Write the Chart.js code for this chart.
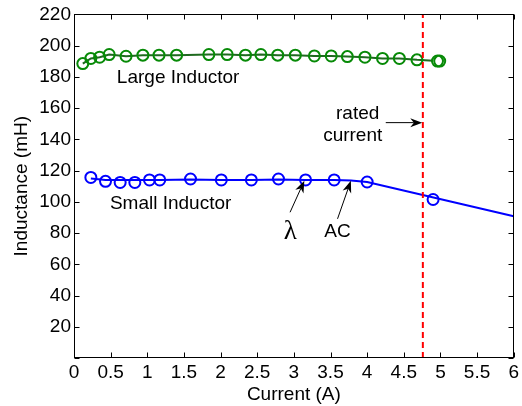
<!DOCTYPE html>
<html><head><meta charset="utf-8">
<script src="https://cdn.jsdelivr.net/npm/chart.js@4/dist/chart.umd.min.js"></script>
<style>html,body{margin:0;padding:0;background:#fff;} canvas{display:block;}</style>
</head><body>
<canvas id="c" width="522" height="406"></canvas>
<script>
// ---- data ----
const largeCurrent    = [0.12, 0.23, 0.35, 0.48, 0.71, 0.94, 1.16, 1.40, 1.84, 2.09, 2.34, 2.55, 2.78, 3.02, 3.28, 3.51, 3.73, 3.97, 4.21, 4.44, 4.68, 4.96, 4.99];
const largeInductance = [188.5, 191.8, 192.6, 194.3, 193.2, 193.9, 193.9, 193.9, 194.3, 194.3, 193.9, 194.3, 193.9, 193.9, 193.4, 193.4, 193.0, 192.6, 191.8, 191.8, 190.9, 190.1, 190.1];
const largeFitCurrent    = [0.12, 0.23, 0.35, 0.48, 0.71, 0.94, 1.16, 1.40, 1.84, 2.09, 2.34, 2.55, 2.78, 3.02, 3.28, 3.51, 3.73, 3.97, 4.21, 4.44, 4.68, 4.90];
const largeFitInductance = [188.5, 191.8, 192.6, 194.3, 193.2, 193.9, 193.9, 193.9, 194.3, 194.3, 193.9, 194.3, 193.9, 193.9, 193.4, 193.4, 193.0, 192.6, 191.8, 191.8, 190.9, 190.4];
const smallCurrent    = [0.23, 0.43, 0.63, 0.83, 1.03, 1.17, 1.59, 2.01, 2.42, 2.79, 3.16, 3.55, 4.00, 4.90];
const smallInductance = [115.6, 113.1, 112.4, 112.4, 114.0, 114.0, 114.6, 114.0, 114.0, 114.6, 114.0, 114.0, 112.7, 101.5];
const smallFitCurrent    = [0.23, 0.43, 0.63, 0.83, 1.03, 1.17, 1.59, 2.01, 2.42, 2.79, 3.16, 3.55, 3.78, 4.00, 6.00];
const smallFitInductance = [115.0, 114.0, 114.0, 114.0, 114.0, 114.0, 114.3, 114.0, 114.0, 114.3, 114.0, 114.0, 113.6, 112.7, 90.8];
const ratedCurrent = 4.76;
const ratedRange = [0, 220];
const xTickLabels = ['0','0.5','1','1.5','2','2.5','3','3.5','4','4.5','5','5.5','6'];
const yTickLabels = ['','20','40','60','80','100','120','140','160','180','200','220'];

// annotation anchors (data coordinates)
const noteTexts = [
  {text:'Large Inductor', x:0.585, y:176.0, align:'left'},
  {text:'Small Inductor', x:0.49,  y:95.5,  align:'left'},
  {text:'\u03BB',          x:2.95,  y:76.0,  align:'center', serif:true},
  {text:'AC',             x:3.596, y:77.4,  align:'center'},
  {text:'rated',          x:3.871, y:153.3, align:'center'},
  {text:'current',        x:3.803, y:139.0, align:'center'}
];
const noteArrows = [
  {from:[2.948, 93.3], to:[3.143, 113.5]},
  {from:[3.596, 89.1], to:[3.778, 113.5]},
  {from:[4.254, 150.7], to:[4.752, 150.7]}
];

const FONT = '"Liberation Sans", Arial, sans-serif';
const pts = (xs, ys) => xs.map((v, i) => ({x: v, y: ys[i]}));

const framePlugin = {
  id: 'frame',
  afterDatasetsDraw(chart) {
    const {ctx, chartArea: a, scales: {x, y}} = chart;
    ctx.save();
    ctx.strokeStyle = '#000';
    ctx.lineWidth = 1;
    const L = Math.round(a.left) + 0.5, R = Math.round(a.right) - 0.5;
    const T = Math.round(a.top) + 0.5, B = Math.round(a.bottom) - 0.5;
    ctx.strokeRect(L, T, R - L, B - T);
    ctx.beginPath();
    x.ticks.forEach(t => {
      const px = Math.round(x.getPixelForValue(t.value)) + 0.5;
      ctx.moveTo(px, B); ctx.lineTo(px, B - 5);
      ctx.moveTo(px, T); ctx.lineTo(px, T + 5);
    });
    y.ticks.forEach(t => {
      const py = Math.round(y.getPixelForValue(t.value)) + 0.5;
      ctx.moveTo(L, py); ctx.lineTo(L + 5, py);
      ctx.moveTo(R, py); ctx.lineTo(R - 5, py);
    });
    ctx.stroke();

    // annotations
    ctx.fillStyle = '#000';
    noteTexts.forEach(n => {
      ctx.font = n.serif ? '27px "Liberation Serif", serif' : '19px ' + FONT;
      ctx.textAlign = n.align;
      ctx.textBaseline = 'alphabetic';
      ctx.fillText(n.text, x.getPixelForValue(n.x), y.getPixelForValue(n.y));
    });
    noteArrows.forEach(ar => {
      const x0 = x.getPixelForValue(ar.from[0]), y0 = y.getPixelForValue(ar.from[1]);
      const x1 = x.getPixelForValue(ar.to[0]),   y1 = y.getPixelForValue(ar.to[1]);
      const ang = Math.atan2(y1 - y0, x1 - x0);
      const hl = 12, hw = 4.5;
      const c = Math.cos(ang), s = Math.sin(ang);
      ctx.beginPath();
      ctx.moveTo(x0, y0);
      ctx.lineTo(x1 - c * hl * 0.7, y1 - s * hl * 0.7);
      ctx.stroke();
      ctx.beginPath();
      ctx.moveTo(x1, y1);
      ctx.lineTo(x1 - c * hl - s * hw, y1 - s * hl + c * hw);
      ctx.lineTo(x1 - c * hl * 0.7, y1 - s * hl * 0.7);
      ctx.lineTo(x1 - c * hl + s * hw, y1 - s * hl - c * hw);
      ctx.closePath();
      ctx.fill();
    });
    ctx.restore();
  }
};

new Chart(document.getElementById('c'), {
  type: 'line',
  data: {
    datasets: [
      { label: 'rated', data: pts([ratedCurrent, ratedCurrent], ratedRange),
        borderColor: '#ff0000', borderWidth: 2, borderDash: [6, 4], pointRadius: 0, fill: false },
      { label: 'large pts', data: pts(largeCurrent, largeInductance), showLine: false,
        pointRadius: 5.5, pointBorderWidth: 2, pointBorderColor: '#078a07', pointBackgroundColor: 'rgba(0,0,0,0)' },
      { label: 'large fit', data: pts(largeFitCurrent, largeFitInductance),
        borderColor: '#1f6a1f', borderWidth: 2, pointRadius: 0, tension: 0, fill: false },
      { label: 'small pts', data: pts(smallCurrent, smallInductance), showLine: false,
        pointRadius: 5.5, pointBorderWidth: 2, pointBorderColor: '#0000ff', pointBackgroundColor: 'rgba(0,0,0,0)' },
      { label: 'small fit', data: pts(smallFitCurrent, smallFitInductance),
        borderColor: '#0000ff', borderWidth: 2, pointRadius: 0, tension: 0, fill: false }
    ]
  },
  options: {
    responsive: false,
    animation: false,
    devicePixelRatio: 1,
    layout: { padding: { top: 13, right: 7, left: 0, bottom: 0 } },
    plugins: { legend: { display: false }, tooltip: { enabled: false } },
    scales: {
      x: {
        type: 'linear', min: 0, max: 6,
        grid: { display: false, drawTicks: false },
        border: { display: false },
        ticks: { stepSize: 0.5, padding: 3, color: '#000', font: { family: FONT, size: 19 },
          maxRotation: 0, autoSkip: false,
          callback: (v) => xTickLabels[Math.round(v * 2)] },
        title: { display: true, text: 'Current (A)', color: '#000', font: { family: FONT, size: 19 },
          padding: { top: 0, bottom: 0 } },
        afterFit: (s) => { s.height = 48; }
      },
      y: {
        type: 'linear', min: 0, max: 220,
        grid: { display: false, drawTicks: false },
        border: { display: false },
        ticks: { stepSize: 20, padding: 3, color: '#000', font: { family: FONT, size: 19 },
          autoSkip: false,
          callback: (v) => yTickLabels[Math.round(v / 20)] },
        title: { display: true, text: 'Inductance (mH)', color: '#000', font: { family: FONT, size: 19 },
          padding: { top: 10, bottom: 0 } },
        afterFit: (s) => { s.width = 74; }
      }
    }
  },
  plugins: [framePlugin]
});
</script>
</body></html>
